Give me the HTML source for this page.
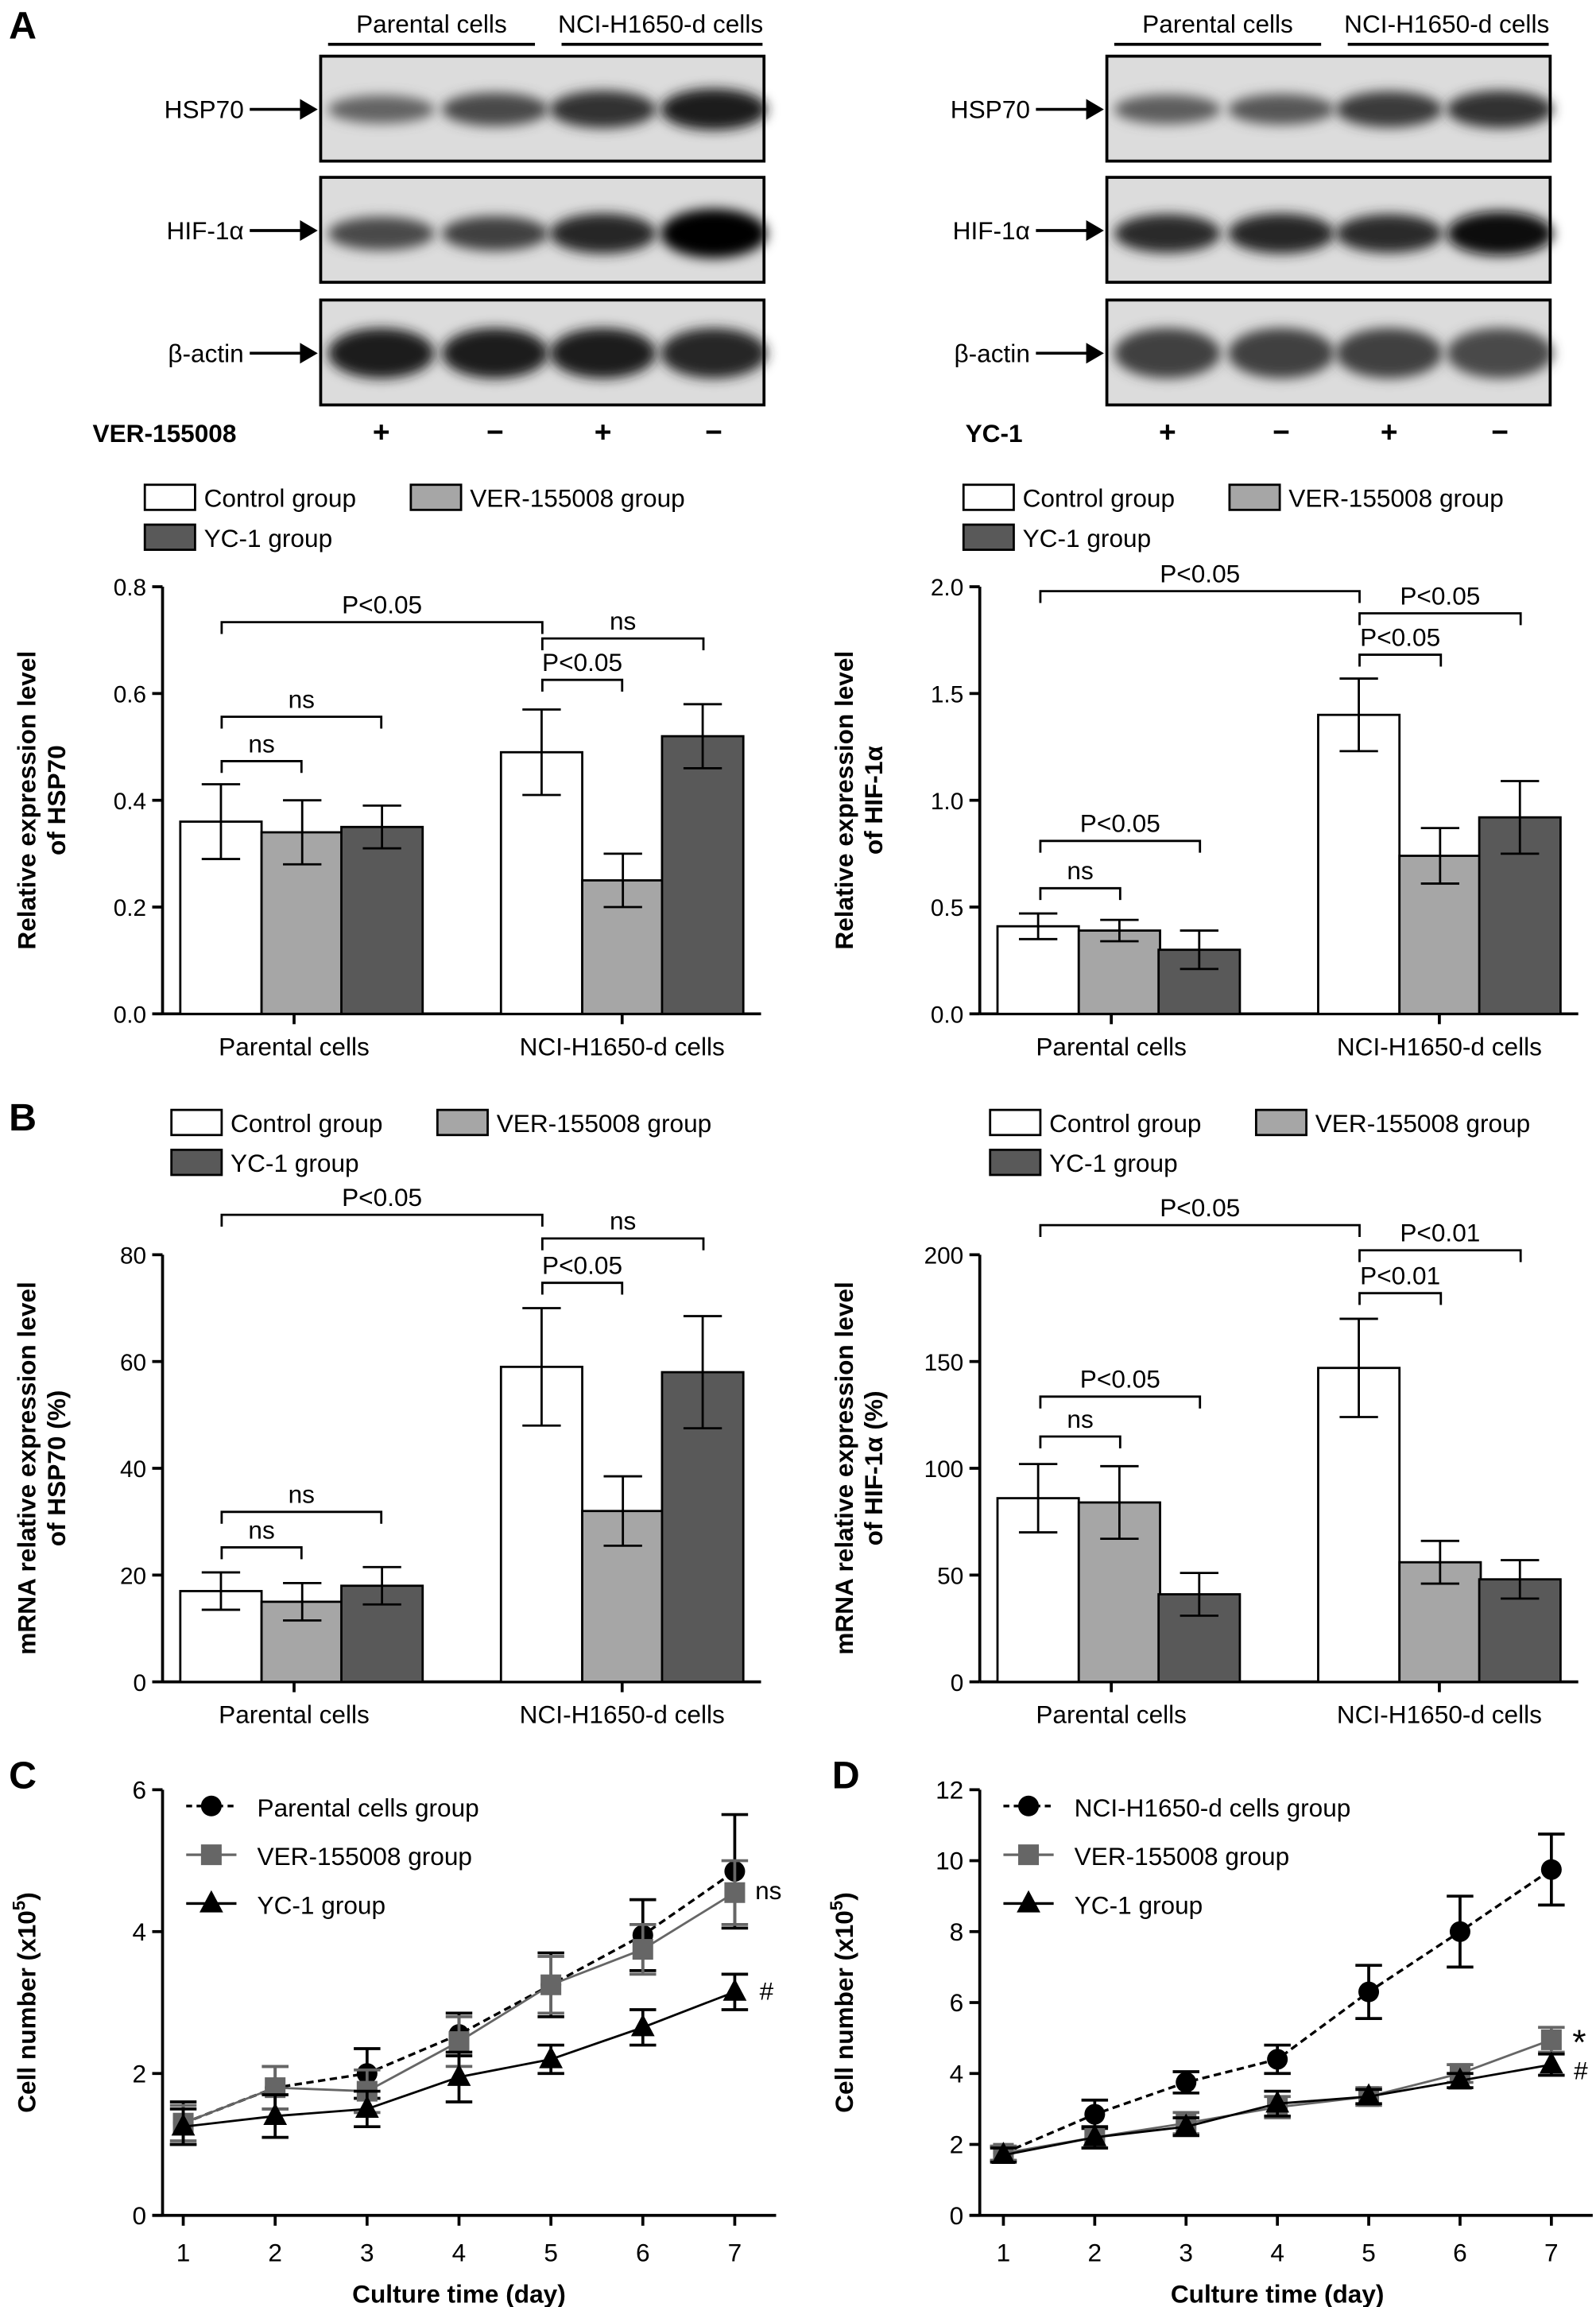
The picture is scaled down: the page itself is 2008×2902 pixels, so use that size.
<!DOCTYPE html>
<html><head><meta charset="utf-8"><style>
html,body{margin:0;padding:0;background:#fff;}
svg{display:block;font-family:"Liberation Sans",Arial,sans-serif;}
</style></head><body>
<svg id="fig" width="2008" height="2902" viewBox="0 0 1080 1561" preserveAspectRatio="none">
<defs>
<filter id="blur" x="-20%" y="-50%" width="140%" height="200%"><feGaussianBlur stdDeviation="4"/></filter>
</defs>
<g id="blots"></g>
<g id="charts"></g>
</svg>
<script>
// ---------- data ----------
const barGroups = ["Parental cells","NCI-H1650-d cells"];
const barSeries = ["Control group","VER-155008 group","YC-1 group"];
const hspProtein = [0.36,0.34,0.35,0.49,0.25,0.52];
const hspProteinErr = [0.07,0.06,0.04,0.08,0.05,0.06];
const hifProtein = [0.41,0.39,0.30,1.40,0.74,0.92];
const hifProteinErr = [0.06,0.05,0.09,0.17,0.13,0.17];
const hspMrna = [17,15,18,59,32,58];
const hspMrnaErr = [3.5,3.5,3.5,11,6.5,10.5];
const hifMrna = [86,84,41,147,56,48];
const hifMrnaErr = [16,17,10,23,10,9];
const ticksHspProtein = [0,0.2,0.4,0.6,0.8];
const ticksHifProtein = [0,0.5,1.0,1.5,2.0];
const ticksHspMrna = [0,20,40,60,80];
const ticksHifMrna = [0,50,100,150,200];
const days = [1,2,3,4,5,6,7];
const cParental = [1.3,1.8,2.0,2.55,3.25,3.95,4.85];
const cParentalErr = [0.3,0.3,0.35,0.3,0.45,0.5,0.8];
const cVer = [1.3,1.8,1.75,2.45,3.25,3.75,4.55];
const cVerErr = [0.25,0.3,0.3,0.35,0.4,0.35,0.45];
const cYc = [1.25,1.4,1.5,1.95,2.2,2.65,3.15];
const cYcErr = [0.25,0.3,0.25,0.35,0.2,0.25,0.25];
const dNci = [1.75,2.85,3.75,4.4,6.3,8.0,9.75];
const dNciErr = [0.2,0.4,0.3,0.4,0.75,1.0,1.0];
const dVer = [1.75,2.2,2.6,3.05,3.35,4.0,4.95];
const dVerErr = [0.2,0.3,0.3,0.3,0.25,0.25,0.35];
const dYc = [1.7,2.2,2.5,3.15,3.35,3.8,4.25];
const dYcErr = [0.2,0.3,0.25,0.35,0.2,0.2,0.3];
const ticksC = [0,2,4,6];
const ticksD = [0,2,4,6,8,10,12];

const NS="http://www.w3.org/2000/svg";
function mk(parent,tag,attrs,text){const e=document.createElementNS(NS,tag);for(const k in attrs)e.setAttribute(k,attrs[k]);if(text!==undefined)e.textContent=text;parent.appendChild(e);return e;}
const charts=document.getElementById('charts');
const blots=document.getElementById('blots');

// ---------- panel letters ----------
[["A",6,26],["B",6,765],["C",6,1210],["D",563,1210]].forEach(p=>{
 const t=mk(charts,'text',{x:p[1],y:p[2],'font-size':26,'font-weight':'bold'},p[0]);
 
 
});

// ---------- blots ----------
function blotPanel(x0,agent,lanesInt){
 const g=mk(blots,'g',{});
 
 
 const w=300;
 const ht1=mk(g,'text',{x:x0+75,y:22,'font-size':17,'text-anchor':'middle'},'Parental cells');
 
 const ht2=mk(g,'text',{x:x0+230,y:22,'font-size':17,'text-anchor':'middle'},'NCI-H1650-d cells');
 
 mk(g,'line',{x1:x0+5,x2:x0+145,y1:30,y2:30,stroke:'#000','stroke-width':2});
 mk(g,'line',{x1:x0+163,x2:x0+299,y1:30,y2:30,stroke:'#000','stroke-width':2});
 const rows=[["HSP70",38],["HIF-1α",120],["β-actin",203]];
 const lanesX=[x0+41,x0+118,x0+191,x0+266];
 rows.forEach((r,ri)=>{
  const y=r[1];
  const rg=mk(g,'g',{});
  
  
  mk(rg,'rect',{x:x0,y:y,width:w,height:71,fill:'#dcdcdc'});
  lanesInt[ri].forEach((v,i)=>{
   const hh=ri===2?34:(10+v*18);
   const c=Math.round(170-v*140);
   mk(rg,'ellipse',{cx:lanesX[i],cy:y+36+(ri===1?2:0),rx:36,ry:hh/2,fill:`rgb(${c},${c},${c})`,filter:'url(#blur)'});
  });
  mk(rg,'rect',{x:x0,y:y,width:w,height:71,fill:'none',stroke:'#000','stroke-width':2});
  const lt=mk(rg,'text',{x:x0-52,y:y+42,'font-size':17,'text-anchor':'end'},r[0]);
  
  mk(rg,'line',{x1:x0-48,x2:x0-8,y1:y+36,y2:y+36,stroke:'#000','stroke-width':2});
  mk(rg,'path',{d:`M${x0-2},${y+36} l-12,-7 v14 z`,fill:'#000'});
 });
 const at=mk(g,'text',{x:x0-57,y:299,'font-size':17,'font-weight':'bold','text-anchor':'end'},agent);
 
 ["+","−","+","−"].forEach((s,i)=>{const st=mk(g,'text',{x:lanesX[i],y:299,'font-size':20,'font-weight':'bold','text-anchor':'middle'},s);
  });
}
blotPanel(217,"VER-155008",[[0.5,0.7,0.85,1],[0.7,0.75,0.95,1.3],[1,1,1,0.95]]);
blotPanel(749,"YC-1",[[0.55,0.6,0.8,0.85],[0.9,0.95,0.9,1.1],[0.75,0.75,0.75,0.7]]);

// ---------- bar charts ----------
const fills=['#ffffff','#a6a6a6','#595959'];
function legend(lx,ly,g){
 const pos=[[lx,ly],[lx+180,ly],[lx,ly+27]];
 barSeries.forEach((s,i)=>{
  const le=mk(g,'g',{});
  
  
  mk(le,'rect',{x:pos[i][0],y:pos[i][1]-8,width:34,height:17,fill:fills[i],stroke:'#000','stroke-width':1.5});
  mk(le,'text',{x:pos[i][0]+40,y:pos[i][1]+7,'font-size':17},s);
 });
}
function barChart(o){
 const g=mk(charts,'g',{});
 
 
 const ax=o.ax, y0=o.y0, ytop=o.ytop, max=o.ticks[o.ticks.length-1];
 const sy=v=>y0-(v/max)*(y0-ytop);
 const bx=[ax+12,ax+67,ax+121,ax+229,ax+284,ax+338];
 const bw=55;
 legend(o.lx,o.ly,g);
 mk(g,'line',{x1:ax,x2:ax,y1:ytop,y2:y0,stroke:'#000','stroke-width':2});
 mk(g,'line',{x1:ax,x2:ax+405,y1:y0,y2:y0,stroke:'#000','stroke-width':2});
 o.ticks.forEach(t=>{
  mk(g,'line',{x1:ax-7,x2:ax,y1:sy(t),y2:sy(t),stroke:'#000','stroke-width':2});
  const tl=mk(g,'text',{x:ax-11,y:sy(t)+6,'font-size':16,'text-anchor':'end'},o.fmt(t));
  
 });
 [ax+89,ax+311].forEach((x,i)=>{
  mk(g,'line',{x1:x,x2:x,y1:y0,y2:y0+7,stroke:'#000','stroke-width':2});
  const cl=mk(g,'text',{x:x,y:y0+28,'font-size':17,'text-anchor':'middle'},barGroups[i]);
  
 });
 o.vals.forEach((v,i)=>{
  const r=mk(g,'rect',{x:bx[i],y:sy(v),width:bw,height:y0-sy(v),fill:fills[i%3],stroke:'#000','stroke-width':1.5});
  
  
  const cx=bx[i]+bw/2, e=o.errs[i];
  mk(g,'path',{d:`M${cx},${sy(v+e)}V${sy(v-e)}M${cx-13},${sy(v+e)}h26M${cx-13},${sy(v-e)}h26`,stroke:'#000','stroke-width':1.5,fill:'none'});
 });
 const tt=mk(g,'text',{transform:`translate(${o.tx},${(y0+ytop)/2}) rotate(-90)`,'font-size':17,'font-weight':'bold','text-anchor':'middle'});
 
 mk(tt,'tspan',{x:0,dy:0},o.title[0]);
 mk(tt,'tspan',{x:0,dy:20},o.title[1]);
 o.sig.forEach(s=>{
  const sg=mk(g,'g',{});
  
  
  mk(sg,'path',{d:`M${s[0]},${s[2]+8}V${s[2]}H${s[1]}V${s[2]+8}`,stroke:'#000','stroke-width':1.5,fill:'none'});
  mk(sg,'text',{x:(s[0]+s[1])/2,y:s[2]-6,'font-size':17,'text-anchor':'middle'},s[3]);
 });
}
const f1=t=>t.toFixed(1), f0=t=>String(t);
barChart({name:'chart-hsp70-protein',ax:110,y0:686,ytop:397,ticks:ticksHspProtein,fmt:f1,vals:hspProtein,errs:hspProteinErr,lx:98,ly:336,tx:24,title:['Relative expression level','of HSP70'],
 sig:[[150,367,421,'P<0.05'],[367,476,432,'ns'],[367,421,460,'P<0.05'],[150,258,485,'ns'],[150,204,515,'ns']]});
barChart({name:'chart-hif1a-protein',ax:663,y0:686,ytop:397,ticks:ticksHifProtein,fmt:f1,vals:hifProtein,errs:hifProteinErr,lx:652,ly:336,tx:577,title:['Relative expression level','of HIF-1α'],
 sig:[[704,920,400,'P<0.05'],[920,1029,415,'P<0.05'],[920,975,443,'P<0.05'],[704,812,569,'P<0.05'],[704,758,601,'ns']]});
barChart({name:'chart-hsp70-mrna',ax:110,y0:1138,ytop:849,ticks:ticksHspMrna,fmt:f0,vals:hspMrna,errs:hspMrnaErr,lx:116,ly:759,tx:24,title:['mRNA relative expression level','of HSP70 (%)'],
 sig:[[150,367,822,'P<0.05'],[367,476,838,'ns'],[367,421,868,'P<0.05'],[150,258,1023,'ns'],[150,204,1047,'ns']]});
barChart({name:'chart-hif1a-mrna',ax:663,y0:1138,ytop:849,ticks:ticksHifMrna,fmt:f0,vals:hifMrna,errs:hifMrnaErr,lx:670,ly:759,tx:577,title:['mRNA relative expression level','of HIF-1α (%)'],
 sig:[[704,920,829,'P<0.05'],[920,1029,846,'P<0.01'],[920,975,875,'P<0.01'],[704,812,945,'P<0.05'],[704,758,972,'ns']]});

// ---------- line charts ----------
function lineChart(o){
 const g=mk(charts,'g',{});
 
 
 const ax=o.ax,y0=1499,ytop=1211,max=o.ticks[o.ticks.length-1];
 const sy=v=>y0-(v/max)*(y0-ytop);
 const sx=d=>o.x1+(d-1)*o.step;
 mk(g,'line',{x1:ax,x2:ax,y1:ytop,y2:y0,stroke:'#000','stroke-width':2});
 mk(g,'line',{x1:ax-7,x2:sx(7)+28,y1:y0,y2:y0,stroke:'#000','stroke-width':2});
 o.ticks.forEach(t=>{
  mk(g,'line',{x1:ax-7,x2:ax,y1:sy(t),y2:sy(t),stroke:'#000','stroke-width':2});
  const tl=mk(g,'text',{x:ax-11,y:sy(t)+6,'font-size':17,'text-anchor':'end'},String(t));
  
 });
 days.forEach(d=>{
  mk(g,'line',{x1:sx(d),x2:sx(d),y1:y0,y2:y0+7,stroke:'#000','stroke-width':2});
  const tl=mk(g,'text',{x:sx(d),y:y0+31,'font-size':17,'text-anchor':'middle'},String(d));
  
 });
 const xt=mk(g,'text',{x:(sx(1)+sx(7))/2,y:1558,'font-size':17,'font-weight':'bold','text-anchor':'middle'},'Culture time (day)');
 
 const yt=mk(g,'text',{transform:`translate(${ax-86},1355) rotate(-90)`,'font-size':17,'font-weight':'bold','text-anchor':'middle'},'Cell number (x10');
 
 mk(yt,'tspan',{dy:-7,'font-size':12},'5');
 mk(yt,'tspan',{dy:7},')');
 const marker=(pg,shape,x,y,col)=>{
  if(shape==='c')mk(pg,'circle',{cx:x,cy:y,r:7,fill:col});
  else if(shape==='s')mk(pg,'rect',{x:x-7,y:y-7,width:14,height:14,fill:col});
  else mk(pg,'path',{d:`M${x},${y-9}L${x+8},${y+6}H${x-8}Z`,fill:col});
 };
 o.series.forEach((s,si)=>{
  const sg=mk(g,'g',{});
  
  
  const pts=s.vals.map((v,i)=>sx(days[i])+','+sy(v)).join(' ');
  mk(sg,'polyline',{points:pts,fill:'none',stroke:s.col,'stroke-width':s.dash?1.8:1.5,'stroke-dasharray':s.dash?'5,3':'none'});
  s.vals.forEach((v,i)=>{
   const x=sx(days[i]),e=s.errs[i];
   mk(sg,'path',{d:`M${x},${sy(v+e)}V${sy(v-e)}M${x-9},${sy(v+e)}h18M${x-9},${sy(v-e)}h18`,stroke:s.col,'stroke-width':2,fill:'none'});
   marker(sg,s.shape,x,sy(v),s.col);
  });
  const ly=1222+si*33;
  const le=mk(g,'g',{});
  
  
  mk(le,'line',{x1:ax+16,x2:ax+50,y1:ly,y2:ly,stroke:s.col,'stroke-width':1.8,'stroke-dasharray':s.dash?'4,3':'none'});
  marker(le,s.shape,ax+33,ly,s.col);
  mk(le,'text',{x:ax+64,y:ly+7,'font-size':17},s.label);
 });
 o.notes.forEach(n=>{const t=mk(g,'text',{x:n[0],y:n[1],'font-size':n[3]||17},n[2]);
  });
}
lineChart({name:'chart-c-growth',ax:110,x1:124,step:62.2,ticks:ticksC,
 series:[{key:'parental',label:'Parental cells group',vals:cParental,errs:cParentalErr,col:'#000',shape:'c',dash:true},
  {key:'ver',label:'VER-155008 group',vals:cVer,errs:cVerErr,col:'#666',shape:'s'},
  {key:'yc1',label:'YC-1 group',vals:cYc,errs:cYcErr,col:'#000',shape:'t'}],
 notes:[[511,1285,'ns'],[514,1353,'#']]});
lineChart({name:'chart-d-growth',ax:663,x1:679,step:61.8,ticks:ticksD,
 series:[{key:'nci',label:'NCI-H1650-d cells group',vals:dNci,errs:dNciErr,col:'#000',shape:'c',dash:true},
  {key:'ver',label:'VER-155008 group',vals:dVer,errs:dVerErr,col:'#666',shape:'s'},
  {key:'yc1',label:'YC-1 group',vals:dYc,errs:dYcErr,col:'#000',shape:'t'}],
 notes:[[1064,1390,'*',24],[1065,1407,'#']]});
</script>
</body></html>
